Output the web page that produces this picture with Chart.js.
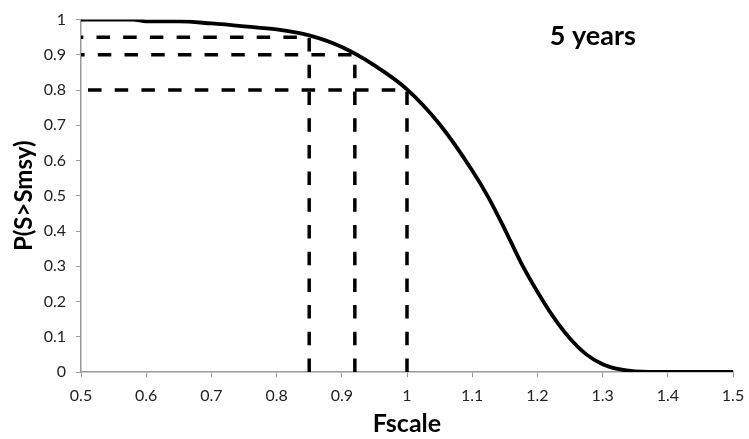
<!DOCTYPE html>
<html>
<head>
<meta charset="utf-8">
<script src="https://cdn.jsdelivr.net/npm/chart.js@4"></script>
<style>
  html, body { margin: 0; padding: 0; background: #fff; }
  #wrap { width: 749px; height: 439px; }
</style>
</head>
<body>
<div id="wrap"><canvas id="chart-canvas"></canvas></div>
<script>
// Fscale values and probability that S stays above Smsy
const fscale = [0.5, 0.55, 0.58, 0.6, 0.65, 0.7, 0.75, 0.8, 0.85, 0.9, 0.95, 1.0, 1.05, 1.1, 1.125,
  1.15, 1.175, 1.2, 1.225, 1.25, 1.275, 1.3, 1.325, 1.35, 1.4, 1.45, 1.5];
const pAbove = [1.0, 1.0, 1.0, 0.995, 0.995, 0.989, 0.981, 0.972, 0.955, 0.922, 0.87, 0.802, 0.703, 0.572, 0.495,
  0.405, 0.31, 0.228, 0.155, 0.095, 0.05, 0.022, 0.008, 0.002, 0, 0, 0];

// reference levels and the Fscale that gives them
const probLevels = [0.95, 0.9, 0.8];
const fscaleAtLevel = [0.85, 0.92, 1.0];

const xMin = 0.5, xMax = 1.5;
const panelTitle = '5 years';

const FONT = 'Lato, "Open Sans", sans-serif';
const AXIS_GREY = '#9a9a9a';

const guideSets = probLevels.map((p, i) => ({
  label: 'P = ' + p,
  data: [
    { x: fscaleAtLevel[i], y: 0 },
    { x: fscaleAtLevel[i], y: p },
    { x: xMin, y: p }
  ],
  borderColor: '#000',
  borderWidth: 3.5,
  borderDash: [13.5, 13.2],
  pointRadius: 0,
  fill: false,
  tension: 0
}));

// draws the "5 years" label inside the plot area
const panelLabel = {
  id: 'panelLabel',
  afterDraw(chart) {
    const { ctx, chartArea } = chart;
    ctx.save();
    ctx.font = 'bold 27px ' + FONT;
    ctx.fillStyle = '#000';
    ctx.textAlign = 'center';
    ctx.textBaseline = 'middle';
    ctx.fillText(panelTitle, chartArea.left + (chartArea.right - chartArea.left) * 0.785, chartArea.top + 17);
    ctx.restore();
  }
};

new Chart(document.getElementById('chart-canvas'), {
  type: 'line',
  plugins: [panelLabel],
  data: {
    datasets: [
      {
        label: 'P(S>Smsy)',
        data: fscale.map((f, i) => ({ x: f, y: pAbove[i] })),
        borderColor: '#000',
        borderWidth: 3.8,
        pointRadius: 0,
        cubicInterpolationMode: 'monotone',
        fill: false
      },
      ...guideSets
    ]
  },
  options: {
    responsive: true,
    maintainAspectRatio: false,
    animation: false,
    layout: { padding: { top: 15, right: 16, left: 0, bottom: 0 } },
    plugins: {
      legend: { display: false },
      tooltip: { enabled: false }
    },
    scales: {
      x: {
        type: 'linear',
        min: xMin,
        max: xMax,
        afterFit: axis => {
          axis.height = 67;
          axis.paddingLeft = 0;
          axis.paddingRight = 0;
        },
        ticks: {
          stepSize: 0.1,
          color: '#222',
          padding: 9,
          font: { family: FONT, size: 16 },
          callback: v => String(Number(v.toFixed(1)))
        },
        grid: { drawOnChartArea: false, drawTicks: true, tickLength: 5, color: AXIS_GREY },
        border: { color: AXIS_GREY, width: 1.5 },
        title: {
          display: true,
          text: 'Fscale',
          color: '#000',
          font: { family: FONT, size: 25, weight: 'bold', lineHeight: 1 },
          padding: { top: 0, bottom: 3 }
        }
      },
      y: {
        min: 0,
        max: 1,
        afterFit: axis => { axis.width = 81; },
        ticks: {
          stepSize: 0.1,
          color: '#222',
          padding: 10,
          font: { family: FONT, size: 16 },
          callback: v => String(Number(v.toFixed(1)))
        },
        grid: { drawOnChartArea: false, drawTicks: true, tickLength: 5, color: AXIS_GREY },
        border: { color: AXIS_GREY, width: 1.5 },
        title: {
          display: true,
          text: 'P(S>Smsy)',
          color: '#000',
          font: { family: FONT, size: 24, weight: 'bold', lineHeight: 1 },
          padding: { top: 12, bottom: 0 }
        }
      }
    }
  }
});
</script>
</body>
</html>
